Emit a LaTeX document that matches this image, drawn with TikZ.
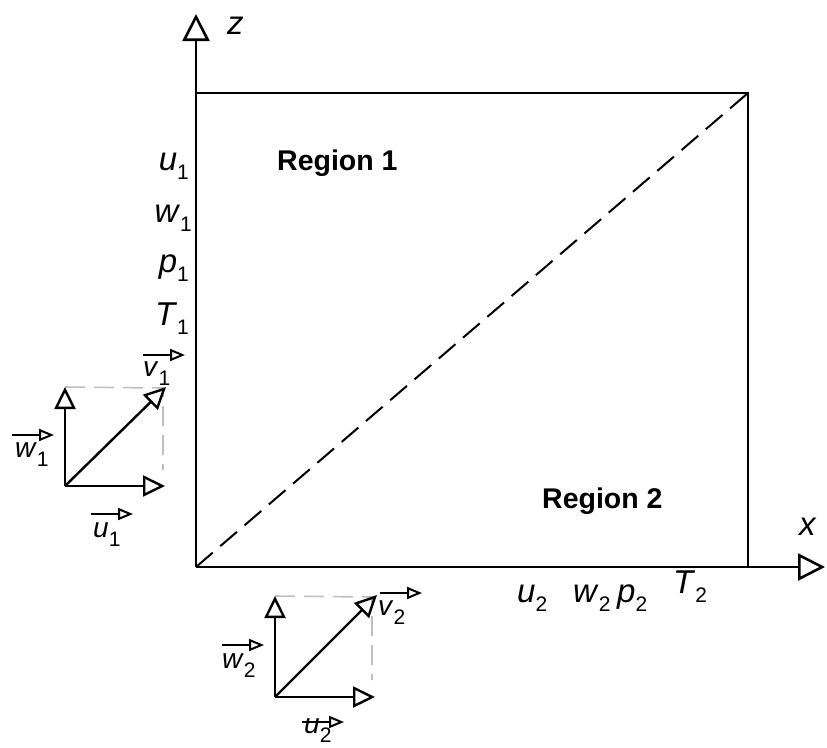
\documentclass[tikz,border=0pt]{standalone}
\usepackage{fontspec}
\setmainfont{Liberation Sans}
\usetikzlibrary{arrows.meta,calc}
\newcommand{\varsub}[2]{\textit{#1}\raisebox{-9pt}{\fontsize{21}{21}\selectfont #2}}

\begin{document}
\begin{tikzpicture}[x=1pt, y=-1pt,
  axisline/.style={line width=2.6pt, -{Triangle[open, length=27pt, width=27pt]}},
  boxline/.style={line width=2.6pt},
  diagline/.style={line width=2pt, dash pattern=on 22pt off 10pt},
  vecline/.style={line width=2.4pt, -{Triangle[open, length=22pt, width=21pt]}},
  helpline/.style={line width=1.6pt, draw=gray!50, dash pattern=on 20pt off 9pt},
  labarrow/.style={line width=2pt, -{Triangle[open, length=15pt, width=12pt]}},
  varlab/.style={font=\fontsize{33}{33}\selectfont, inner sep=0pt},
  veclab/.style={font=\fontsize{28}{28}\selectfont, inner sep=0pt},
  regionlab/.style={font=\fontsize{28.5}{28.5}\selectfont\bfseries, inner sep=0pt}
]
\useasboundingbox (0,0) rectangle (827,747);

% Axes and the domain box
\coordinate (origin) at (196,567);
\coordinate (ztip) at (196,14);
\coordinate (xtip) at (825,567);
\coordinate (topleft) at (196,93);
\coordinate (topright) at (748,93);
\coordinate (botright) at (748,567);
\draw[axisline] (origin) -- (ztip);
\draw[axisline] (origin) -- (xtip);
\draw[boxline] (topleft) -- (topright) -- (botright);
\draw[diagline] (origin) -- (topright);
\node[varlab, anchor=base west] (zlab) at (227,34) {\textit{z}};
\node[varlab, anchor=base west] (xlab) at (799,535) {\textit{x}};

% Region names
\node[regionlab, anchor=base west] (reg1) at (277,170) {Region 1};
\node[regionlab, anchor=base west] (reg2) at (542,508) {Region 2};

% Variables of region 1 along the z axis
\node[varlab, anchor=base east] (u1) at (189,170) {\varsub{u}{1}};
\node[varlab, anchor=base east] (w1) at (192,222) {\varsub{w}{1}};
\node[varlab, anchor=base east] (p1) at (189,272) {\varsub{p}{1}};
\node[varlab, anchor=base east] (T1) at (189,325) {\varsub{T}{1}};

% Variables of region 2 along the x axis
\node[varlab, anchor=base west] (u2) at (517,602) {\varsub{u}{2}};
\node[varlab, anchor=base west] (w2) at (573,602) {\varsub{w}{2}};
\node[varlab, anchor=base west] (p2) at (617,602) {\varsub{p}{2}};
\node[varlab, anchor=base west] (T2) at (673,593) {\varsub{T}{2}};

% Velocity sketch of region 1
\coordinate (vo1) at (65,486);
\coordinate (wtip1) at (65,387);
\coordinate (utip1) at (165,486);
\coordinate (vtip1) at (166,387);
\coordinate (corner1) at (163,388);
\draw[helpline] (wtip1) -- (corner1) -- (163,470);
\draw[vecline] (vo1) -- (wtip1);
\draw[vecline] (vo1) -- (utip1);
\draw[vecline] (vo1) -- (vtip1);
\node[veclab, anchor=base west] (v1lab) at (143,376) {\varsub{v}{1}};
\node[veclab, anchor=base west] (w1lab) at (15,457) {\varsub{w}{1}};
\node[veclab, anchor=base west] (u1lab) at (93,537) {\varsub{u}{1}};
\coordinate (v1a) at (143,355);
\coordinate (v1b) at (185,355);
\coordinate (w1a) at (12,435);
\coordinate (w1b) at (54,435);
\coordinate (u1a) at (91,514);
\coordinate (u1b) at (133,514);
\draw[labarrow] (v1a) -- (v1b);
\draw[labarrow] (w1a) -- (w1b);
\draw[labarrow] (u1a) -- (u1b);

% Velocity sketch of region 2
\coordinate (vo2) at (275,697);
\coordinate (wtip2) at (275,596);
\coordinate (utip2) at (375,697);
\coordinate (vtip2) at (377,595);
\coordinate (corner2) at (372,597);
\draw[helpline] (wtip2) -- (corner2) -- (372,680);
\draw[vecline] (vo2) -- (wtip2);
\draw[vecline] (vo2) -- (utip2);
\draw[vecline] (vo2) -- (vtip2);
\node[veclab, anchor=base west] (v2lab) at (378,615) {\varsub{v}{2}};
\node[veclab, anchor=base west] (w2lab) at (222,668) {\varsub{w}{2}};
\node[veclab, anchor=base west] (u2lab) at (304,733) {\varsub{u}{2}};
\coordinate (v2a) at (380,593);
\coordinate (v2b) at (422,593);
\coordinate (w2a) at (222,645);
\coordinate (w2b) at (264,645);
\coordinate (u2a) at (302,722);
\coordinate (u2b) at (344,722);
\draw[labarrow] (v2a) -- (v2b);
\draw[labarrow] (w2a) -- (w2b);
\draw[labarrow] (u2a) -- (u2b);

\end{tikzpicture}
\end{document}
